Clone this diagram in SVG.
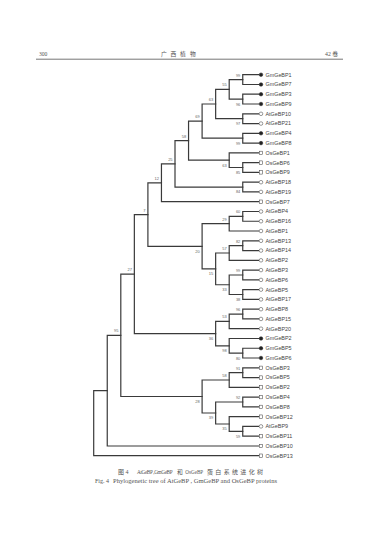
<svg xmlns="http://www.w3.org/2000/svg" width="380" height="538" viewBox="0 0 380 538">
<style>
.br{fill:none;stroke:#3a3a3a;stroke-width:1.2;stroke-linecap:square}
.lf{font-family:"Liberation Sans",Arial,sans-serif;font-size:5.4px;fill:#444}
.bs{font-family:"Liberation Sans",Arial,sans-serif;font-size:4px;fill:#666;text-anchor:end}
.gm{fill:#222;stroke:#222;stroke-width:0.5}
.at{fill:#fff;stroke:#444;stroke-width:0.55}
.os{fill:#fff;stroke:#444;stroke-width:0.55}
.hd{font-family:"Liberation Serif","Noto Sans CJK SC",serif;fill:#555}
</style>
<defs>
<circle id="sg" class="gm" r="1.8"/>
<circle id="sa" class="at" r="1.8"/>
<rect id="so" class="os" x="-1.7" y="-1.7" width="3.4" height="3.4"/>
</defs>
<rect width="380" height="538" fill="#fff"/>
<g id="header">
<text class="hd" x="39" y="56" font-size="5.6">300</text>
<text class="hd" y="56.3" font-size="5.8" x="161 170.5 180 190">广西植物</text>
<text class="hd" x="325" y="56.3" font-size="5.8">42 卷</text>
<line x1="36" y1="59.2" x2="343" y2="59.2" stroke="#666" stroke-width="0.9"/>
</g>
<g id="connectors">
<path class="br" d="M258.6 74.7H242.75V84.5H258.6"/>
<path class="br" d="M258.6 94.2H242.75V104H258.6"/>
<path class="br" d="M242.75 79.6H229.2V99.1H242.75"/>
<path class="br" d="M258.6 113.8H242.75V123.55H258.6"/>
<path class="br" d="M229.2 89.35H215.65V118.7H242.75"/>
<path class="br" d="M258.6 133.3H242.75V143.1H258.6"/>
<path class="br" d="M215.65 104H202.1V138.2H242.75"/>
<path class="br" d="M258.6 162.6H242.75V172.4H258.6"/>
<path class="br" d="M258.6 152.9H229.2V167.5H242.75"/>
<path class="br" d="M202.1 121.1H188.55V160.2H229.2"/>
<path class="br" d="M258.6 182.2H242.75V191.9H258.6"/>
<path class="br" d="M188.55 140.65H175V187.05H242.75"/>
<path class="br" d="M175 163.85H161.45V201.7H258.6"/>
<path class="br" d="M258.6 211.5H242.75V221.25H258.6"/>
<path class="br" d="M242.75 216.4H229.2V231H258.6"/>
<path class="br" d="M258.6 240.8H242.75V250.55H258.6"/>
<path class="br" d="M242.75 245.7H229.2V260.3H258.6"/>
<path class="br" d="M258.6 270.1H242.75V279.9H258.6"/>
<path class="br" d="M258.6 289.65H242.75V299.4H258.6"/>
<path class="br" d="M242.75 275H229.2V294.5H242.75"/>
<path class="br" d="M229.2 253H215.65V284.75H229.2"/>
<path class="br" d="M229.2 223.7H202.1V268.9H215.65"/>
<path class="br" d="M161.45 182.8H147.9V246.3H202.1"/>
<path class="br" d="M258.6 309.2H242.75V318.95H258.6"/>
<path class="br" d="M242.75 314.1H229.2V328.7H258.6"/>
<path class="br" d="M258.6 348.25H242.75V358H258.6"/>
<path class="br" d="M258.6 338.5H229.2V353.15H242.75"/>
<path class="br" d="M229.2 321.4H215.65V345.8H229.2"/>
<path class="br" d="M147.9 214.55H134.35V333.6H215.65"/>
<path class="br" d="M258.6 367.8H242.75V377.55H258.6"/>
<path class="br" d="M242.75 372.7H229.2V387.35H258.6"/>
<path class="br" d="M258.6 397.1H242.75V406.9H258.6"/>
<path class="br" d="M258.6 426.4H242.75V436.2H258.6"/>
<path class="br" d="M258.6 416.65H229.2V431.3H242.75"/>
<path class="br" d="M242.75 402H215.65V424H229.2"/>
<path class="br" d="M229.2 380H202.1V413H215.65"/>
<path class="br" d="M134.35 274.1H120.8V396.5H202.1"/>
<path class="br" d="M120.8 335.3H107.25V446H258.6"/>
<path class="br" d="M107.25 390.65H93.7V455.7H258.6"/>
</g>
<g id="bootstrap">
<text class="bs" x="240.35" y="76.65">99</text>
<text class="bs" x="240.35" y="105.5">96</text>
<text class="bs" x="226.8" y="86.4">55</text>
<text class="bs" x="240.35" y="125.1">97</text>
<text class="bs" x="213.25" y="101.05">63</text>
<text class="bs" x="240.35" y="144.6">99</text>
<text class="bs" x="199.7" y="118.15">69</text>
<text class="bs" x="240.35" y="173.9">85</text>
<text class="bs" x="226.8" y="166.6">63</text>
<text class="bs" x="186.15" y="137.7">58</text>
<text class="bs" x="240.35" y="193.45">84</text>
<text class="bs" x="172.6" y="160.9">25</text>
<text class="bs" x="159.05" y="179.85">12</text>
<text class="bs" x="240.35" y="213.45">60</text>
<text class="bs" x="226.8" y="220.75">29</text>
<text class="bs" x="240.35" y="242.75">82</text>
<text class="bs" x="226.8" y="250.05">57</text>
<text class="bs" x="240.35" y="272.05">99</text>
<text class="bs" x="240.35" y="300.9">38</text>
<text class="bs" x="226.8" y="291.15">33</text>
<text class="bs" x="213.25" y="275.3">15</text>
<text class="bs" x="199.7" y="252.7">20</text>
<text class="bs" x="145.5" y="211.6">7</text>
<text class="bs" x="240.35" y="311.15">96</text>
<text class="bs" x="226.8" y="318.45">53</text>
<text class="bs" x="240.35" y="359.55">80</text>
<text class="bs" x="226.8" y="352.2">98</text>
<text class="bs" x="213.25" y="340">36</text>
<text class="bs" x="131.95" y="271.15">27</text>
<text class="bs" x="240.35" y="369.75">91</text>
<text class="bs" x="226.8" y="377.05">58</text>
<text class="bs" x="240.35" y="399.05">92</text>
<text class="bs" x="240.35" y="437.7">59</text>
<text class="bs" x="226.8" y="430.4">35</text>
<text class="bs" x="213.25" y="419.4">39</text>
<text class="bs" x="199.7" y="402.9">28</text>
<text class="bs" x="118.4" y="332.35">95</text>
</g>
<g id="GmGeBP1"><use href="#sg" x="261" y="74.7"/><text class="lf" x="265.5" y="76.6">GmGeBP1</text></g>
<g id="GmGeBP7"><use href="#sg" x="261" y="84.5"/><text class="lf" x="265.5" y="86.4">GmGeBP7</text></g>
<g id="GmGeBP3"><use href="#sg" x="261" y="94.2"/><text class="lf" x="265.5" y="96.1">GmGeBP3</text></g>
<g id="GmGeBP9"><use href="#sg" x="261" y="104"/><text class="lf" x="265.5" y="105.9">GmGeBP9</text></g>
<g id="AtGeBP10"><use href="#sa" x="261" y="113.8"/><text class="lf" x="265.5" y="115.7">AtGeBP10</text></g>
<g id="AtGeBP21"><use href="#sa" x="261" y="123.55"/><text class="lf" x="265.5" y="125.45">AtGeBP21</text></g>
<g id="GmGeBP4"><use href="#sg" x="261" y="133.3"/><text class="lf" x="265.5" y="135.2">GmGeBP4</text></g>
<g id="GmGeBP8"><use href="#sg" x="261" y="143.1"/><text class="lf" x="265.5" y="145">GmGeBP8</text></g>
<g id="OsGeBP1"><use href="#so" x="261" y="152.9"/><text class="lf" x="265.5" y="154.8">OsGeBP1</text></g>
<g id="OsGeBP6"><use href="#so" x="261" y="162.6"/><text class="lf" x="265.5" y="164.5">OsGeBP6</text></g>
<g id="OsGeBP9"><use href="#so" x="261" y="172.4"/><text class="lf" x="265.5" y="174.3">OsGeBP9</text></g>
<g id="AtGeBP18"><use href="#sa" x="261" y="182.2"/><text class="lf" x="265.5" y="184.1">AtGeBP18</text></g>
<g id="AtGeBP19"><use href="#sa" x="261" y="191.9"/><text class="lf" x="265.5" y="193.8">AtGeBP19</text></g>
<g id="OsGeBP7"><use href="#so" x="261" y="201.7"/><text class="lf" x="265.5" y="203.6">OsGeBP7</text></g>
<g id="AtGeBP4"><use href="#sa" x="261" y="211.5"/><text class="lf" x="265.5" y="213.4">AtGeBP4</text></g>
<g id="AtGeBP16"><use href="#sa" x="261" y="221.25"/><text class="lf" x="265.5" y="223.15">AtGeBP16</text></g>
<g id="AtGeBP1"><use href="#sa" x="261" y="231"/><text class="lf" x="265.5" y="232.9">AtGeBP1</text></g>
<g id="AtGeBP13"><use href="#sa" x="261" y="240.8"/><text class="lf" x="265.5" y="242.7">AtGeBP13</text></g>
<g id="AtGeBP14"><use href="#sa" x="261" y="250.55"/><text class="lf" x="265.5" y="252.45">AtGeBP14</text></g>
<g id="AtGeBP2"><use href="#sa" x="261" y="260.3"/><text class="lf" x="265.5" y="262.2">AtGeBP2</text></g>
<g id="AtGeBP3"><use href="#sa" x="261" y="270.1"/><text class="lf" x="265.5" y="272">AtGeBP3</text></g>
<g id="AtGeBP6"><use href="#sa" x="261" y="279.9"/><text class="lf" x="265.5" y="281.8">AtGeBP6</text></g>
<g id="AtGeBP5"><use href="#sa" x="261" y="289.65"/><text class="lf" x="265.5" y="291.55">AtGeBP5</text></g>
<g id="AtGeBP17"><use href="#sa" x="261" y="299.4"/><text class="lf" x="265.5" y="301.3">AtGeBP17</text></g>
<g id="AtGeBP8"><use href="#sa" x="261" y="309.2"/><text class="lf" x="265.5" y="311.1">AtGeBP8</text></g>
<g id="AtGeBP15"><use href="#sa" x="261" y="318.95"/><text class="lf" x="265.5" y="320.85">AtGeBP15</text></g>
<g id="AtGeBP20"><use href="#sa" x="261" y="328.7"/><text class="lf" x="265.5" y="330.6">AtGeBP20</text></g>
<g id="GmGeBP2"><use href="#sg" x="261" y="338.5"/><text class="lf" x="265.5" y="340.4">GmGeBP2</text></g>
<g id="GmGeBP5"><use href="#sg" x="261" y="348.25"/><text class="lf" x="265.5" y="350.15">GmGeBP5</text></g>
<g id="GmGeBP6"><use href="#sg" x="261" y="358"/><text class="lf" x="265.5" y="359.9">GmGeBP6</text></g>
<g id="OsGeBP3"><use href="#so" x="261" y="367.8"/><text class="lf" x="265.5" y="369.7">OsGeBP3</text></g>
<g id="OsGeBP5"><use href="#so" x="261" y="377.55"/><text class="lf" x="265.5" y="379.45">OsGeBP5</text></g>
<g id="OsGeBP2"><use href="#so" x="261" y="387.35"/><text class="lf" x="265.5" y="389.25">OsGeBP2</text></g>
<g id="OsGeBP4"><use href="#so" x="261" y="397.1"/><text class="lf" x="265.5" y="399">OsGeBP4</text></g>
<g id="OsGeBP8"><use href="#so" x="261" y="406.9"/><text class="lf" x="265.5" y="408.8">OsGeBP8</text></g>
<g id="OsGeBP12"><use href="#so" x="261" y="416.65"/><text class="lf" x="265.5" y="418.55">OsGeBP12</text></g>
<g id="AtGeBP9"><use href="#sa" x="261" y="426.4"/><text class="lf" x="265.5" y="428.3">AtGeBP9</text></g>
<g id="OsGeBP11"><use href="#so" x="261" y="436.2"/><text class="lf" x="265.5" y="438.1">OsGeBP11</text></g>
<g id="OsGeBP10"><use href="#so" x="261" y="446"/><text class="lf" x="265.5" y="447.9">OsGeBP10</text></g>
<g id="OsGeBP13"><use href="#so" x="261" y="455.7"/><text class="lf" x="265.5" y="457.6">OsGeBP13</text></g>
<g id="caption">
<text class="hd" x="118" y="473.6" font-size="6">图 4</text>
<text class="hd" x="137" y="473.6" font-size="5.2" letter-spacing="-0.35">AtGeBP ,GmGeBP</text>
<text class="hd" x="177" y="473.6" font-size="5.8">和</text>
<text class="hd" x="185.3" y="473.6" font-size="5.1">OsGeBP</text>
<text class="hd" x="207" y="473.6" font-size="6" textLength="56" lengthAdjust="spacing">蛋白系统进化树</text>
<text class="hd" y="483" font-size="6"><tspan x="95">Fig. 4</tspan><tspan x="113" textLength="164" lengthAdjust="spacingAndGlyphs">Phylogenetic tree of AtGeBP , GmGeBP and OsGeBP proteins</tspan></text>
</g>
</svg>
